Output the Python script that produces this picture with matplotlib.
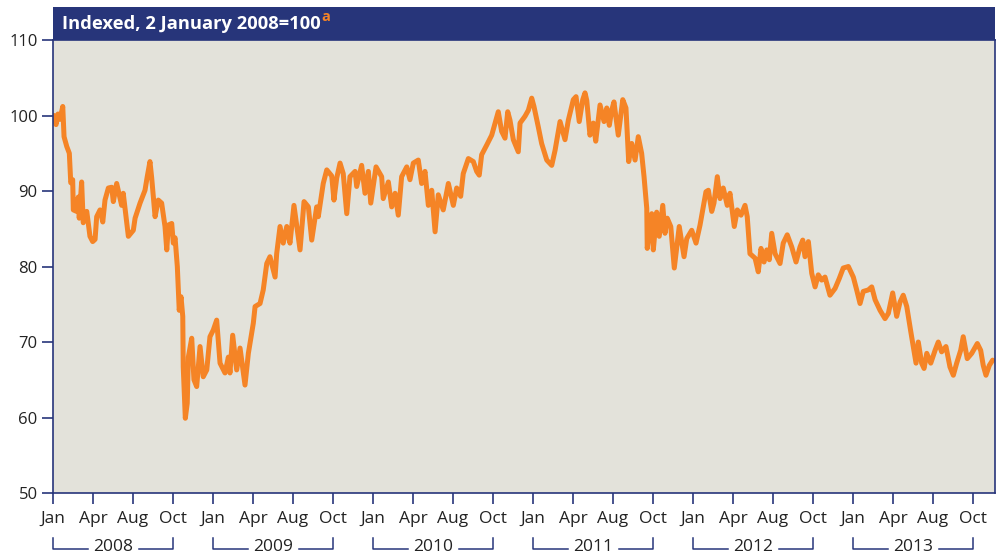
import matplotlib
matplotlib.use("Agg")
import matplotlib.pyplot as plt
import matplotlib.transforms as mtransforms
from matplotlib.patches import Rectangle
import numpy as np

# ---- data ----
years_since_2008 = [
    0.000, 0.006, 0.019, 0.031, 0.044, 0.061, 0.069, 0.086, 0.102, 0.111, 0.123, 0.127, 0.148, 0.158, 0.164,
    0.179, 0.189, 0.211, 0.231, 0.248, 0.263, 0.273, 0.294, 0.311, 0.325, 0.346, 0.367, 0.377, 0.398,
    0.429, 0.439, 0.471, 0.502, 0.513, 0.544, 0.575, 0.589, 0.606, 0.617, 0.638, 0.658, 0.679, 0.700,
    0.711, 0.721, 0.742, 0.752, 0.763, 0.777, 0.789, 0.800, 0.811, 0.814, 0.827, 0.839, 0.846, 0.867,
    0.881, 0.898, 0.919, 0.939, 0.961, 0.981, 1.002, 1.023, 1.044, 1.075, 1.096, 1.106, 1.123, 1.148,
    1.169, 1.200, 1.221, 1.252, 1.263, 1.294, 1.314, 1.336, 1.356, 1.388, 1.398, 1.419, 1.439, 1.461,
    1.481, 1.506, 1.544, 1.569, 1.596, 1.617, 1.648, 1.658, 1.689, 1.711, 1.742, 1.756, 1.773, 1.794,
    1.814, 1.836, 1.856, 1.888, 1.898, 1.929, 1.950, 1.971, 1.986, 2.019, 2.054, 2.064, 2.096, 2.117,
    2.138, 2.158, 2.179, 2.211, 2.231, 2.252, 2.283, 2.304, 2.325, 2.346, 2.367, 2.388, 2.408, 2.439,
    2.471, 2.502, 2.523, 2.548, 2.564, 2.596, 2.627, 2.648, 2.664, 2.679, 2.711, 2.742, 2.763, 2.783,
    2.804, 2.825, 2.842, 2.856, 2.877, 2.908, 2.919, 2.950, 2.971, 2.992, 3.006, 3.033, 3.054, 3.086,
    3.117, 3.138, 3.169, 3.200, 3.221, 3.252, 3.269, 3.289, 3.311, 3.325, 3.336, 3.356, 3.377, 3.392,
    3.419, 3.444, 3.461, 3.477, 3.492, 3.506, 3.533, 3.561, 3.581, 3.598, 3.617, 3.638, 3.658, 3.679,
    3.694, 3.711, 3.714, 3.742, 3.752, 3.773, 3.789, 3.811, 3.825, 3.839, 3.861, 3.883, 3.914, 3.944,
    3.961, 3.992, 4.019, 4.044, 4.061, 4.081, 4.096, 4.117, 4.131, 4.152, 4.169, 4.189, 4.214, 4.231,
    4.258, 4.277, 4.300, 4.325, 4.339, 4.356, 4.388, 4.408, 4.425, 4.444, 4.461, 4.477, 4.492, 4.513,
    4.544, 4.564, 4.589, 4.617, 4.644, 4.669, 4.686, 4.700, 4.721, 4.742, 4.763, 4.783, 4.804, 4.825,
    4.856, 4.888, 4.914, 4.939, 4.971, 5.002, 5.023, 5.044, 5.064, 5.096, 5.117, 5.138, 5.169, 5.200,
    5.221, 5.248, 5.273, 5.294, 5.314, 5.336, 5.361, 5.381, 5.394, 5.408, 5.429, 5.444, 5.461, 5.486,
    5.513, 5.533, 5.554, 5.581, 5.606, 5.627, 5.648, 5.673, 5.689, 5.714, 5.742, 5.777, 5.798, 5.814,
    5.831, 5.852, 5.873,
]
index_values = [
    100.0, 100.0, 98.8, 100.2, 99.5, 101.2, 97.2, 95.9, 95.0, 91.1, 91.5, 87.5, 87.3, 89.2, 86.4,
    91.2, 85.8, 87.3, 84.0, 83.3, 83.6, 86.6, 87.5, 85.9, 88.8, 90.4, 90.5, 88.6, 91.0,
    88.1, 89.7, 84.0, 84.8, 86.4, 88.4, 90.1, 91.9, 93.9, 91.7, 86.6, 88.8, 88.4, 85.3,
    82.2, 85.5, 85.7, 83.1, 83.8, 80.0, 74.2, 76.0, 73.4, 66.7, 59.9, 61.9, 68.0, 70.5,
    65.0, 64.1, 69.4, 65.4, 66.3, 70.7, 71.6, 72.9, 67.2, 65.9, 68.0, 65.9, 70.9, 66.3,
    69.2, 64.3, 68.5, 72.5, 74.7, 75.1, 76.9, 80.4, 81.3, 78.6, 81.7, 85.3, 83.1, 85.3,
    83.1, 88.1, 82.2, 88.6, 87.9, 83.5, 87.9, 86.6, 91.0, 92.8, 92.0, 88.8, 91.7, 93.7,
    92.3, 87.0, 91.9, 92.6, 90.6, 93.4, 89.7, 92.6, 88.4, 93.2, 91.9, 89.0, 91.2, 87.9,
    89.7, 86.8, 91.9, 93.2, 91.5, 93.7, 94.1, 91.0, 92.6, 88.1, 90.1, 84.6, 89.5, 87.5,
    91.0, 88.1, 90.4, 89.3, 92.3, 94.3, 93.9, 92.6, 92.1, 94.8, 96.1, 97.4, 99.0, 100.5,
    97.9, 97.0, 100.5, 99.4, 96.8, 95.2, 99.0, 99.9, 100.7, 102.3, 101.2, 98.5, 96.3, 94.1,
    93.4, 95.4, 99.2, 96.8, 99.4, 102.1, 102.5, 99.2, 102.1, 103.0, 102.0, 97.4, 99.0, 96.6,
    101.4, 99.2, 101.0, 98.7, 100.7, 101.8, 97.4, 102.1, 101.0, 93.9, 96.3, 94.1, 97.2, 95.0,
    91.9, 87.7, 82.4, 87.0, 82.2, 87.2, 84.0, 88.1, 84.4, 86.4, 85.3, 79.8, 85.3, 81.3,
    83.7, 84.8, 83.1, 85.5, 87.5, 89.9, 90.1, 87.3, 88.4, 91.9, 89.0, 90.4, 88.1, 89.7,
    85.3, 87.5, 86.8, 88.1, 86.6, 81.7, 81.1, 79.3, 82.4, 80.6, 82.2, 80.9, 84.4, 81.7,
    80.4, 83.1, 84.2, 82.6, 80.6, 82.6, 83.5, 81.3, 83.3, 79.1, 77.3, 78.9, 78.2, 78.6,
    76.2, 77.1, 78.4, 79.8, 80.0, 78.6, 76.9, 75.1, 76.7, 76.9, 77.3, 75.6, 74.2, 73.1,
    73.8, 76.5, 73.4, 75.3, 76.2, 74.7, 71.4, 68.9, 67.2, 70.0, 67.2, 66.5, 68.5, 67.2,
    68.9, 70.0, 68.7, 69.4, 66.7, 65.6, 67.2, 68.9, 70.7, 67.8, 68.5, 69.8, 68.9, 66.9,
    65.6, 66.9, 67.6,
]
years = [2008, 2009, 2010, 2011, 2012, 2013]
month_labels = ["Jan", "Apr", "Aug", "Oct"]
y_ticks = [50, 60, 70, 80, 90, 100, 110]
header_text = "Indexed, 2 January 2008=100"
footnote_mark = "a"

# ---- style ----
NAVY = "#27357a"
ORANGE = "#f58426"
BG = "#e3e2da"
TXT = "#222222"
plt.rcParams["font.family"] = ["Open Sans", "DejaVu Sans"]

fig = plt.figure(figsize=(10, 5.56), dpi=100)
ax = fig.add_axes([0.053, 0.1133, 0.942, 0.8147])
ax.set_facecolor(BG)

x = 2008 + np.array(years_since_2008)
ax.plot(x, index_values, color=ORANGE, lw=3.6, solid_joinstyle="round", solid_capstyle="round")

ax.set_xlim(2008, 2008 + 942 / 160)
ax.set_ylim(50, 110)
ax.set_yticks(y_ticks)
ax.set_yticklabels([str(v) for v in y_ticks], fontsize=12, color=TXT)

xt = []
xl = []
for yr in years:
    for q, m in enumerate(month_labels):
        xt.append(yr + q * 0.25)
        xl.append(m)
ax.set_xticks(xt)
ax.set_xticklabels(xl, fontsize=12.5, color=TXT)
ax.tick_params(axis="both", direction="out", length=8, width=1.2, color=NAVY)
ax.tick_params(axis="x", pad=5)
ax.tick_params(axis="y", pad=3)
for s in ax.spines.values():
    s.set_color(NAVY)
    s.set_linewidth(1.2)

# year brackets
trans = mtransforms.blended_transform_factory(ax.transData, ax.transAxes)
y_line = -0.1245
y_top = -0.100
half_gap = 26 / 160
for yr in years:
    x0, x1 = yr, yr + 0.75
    xc = yr + 60.5 / 160
    ax.plot([x0, x0, xc - half_gap], [y_top, y_line, y_line], color=NAVY, lw=1.1,
            transform=trans, clip_on=False)
    ax.plot([xc + half_gap, x1, x1], [y_line, y_line, y_top], color=NAVY, lw=1.1,
            transform=trans, clip_on=False)
    ax.text(xc, y_line + 0.005, str(yr), transform=trans, ha="center", va="center",
            fontsize=12.5, color=TXT)

# header band
fig.patches.append(Rectangle((0.053, 0.928), 0.942, 0.0594, transform=fig.transFigure,
                             facecolor=NAVY, edgecolor="none", zorder=5))
t = fig.text(0.062, 0.9560, header_text, color="white", fontsize=13.2, fontweight="bold",
             ha="left", va="center", zorder=6)
fig.canvas.draw()
bb = t.get_window_extent()
fig.text((bb.x1 + 1) / fig.bbox.width, 0.970, footnote_mark, color=ORANGE, fontsize=10.5,
         fontweight="bold", ha="left", va="center", zorder=6)

fig.savefig("out.png", dpi=100)
